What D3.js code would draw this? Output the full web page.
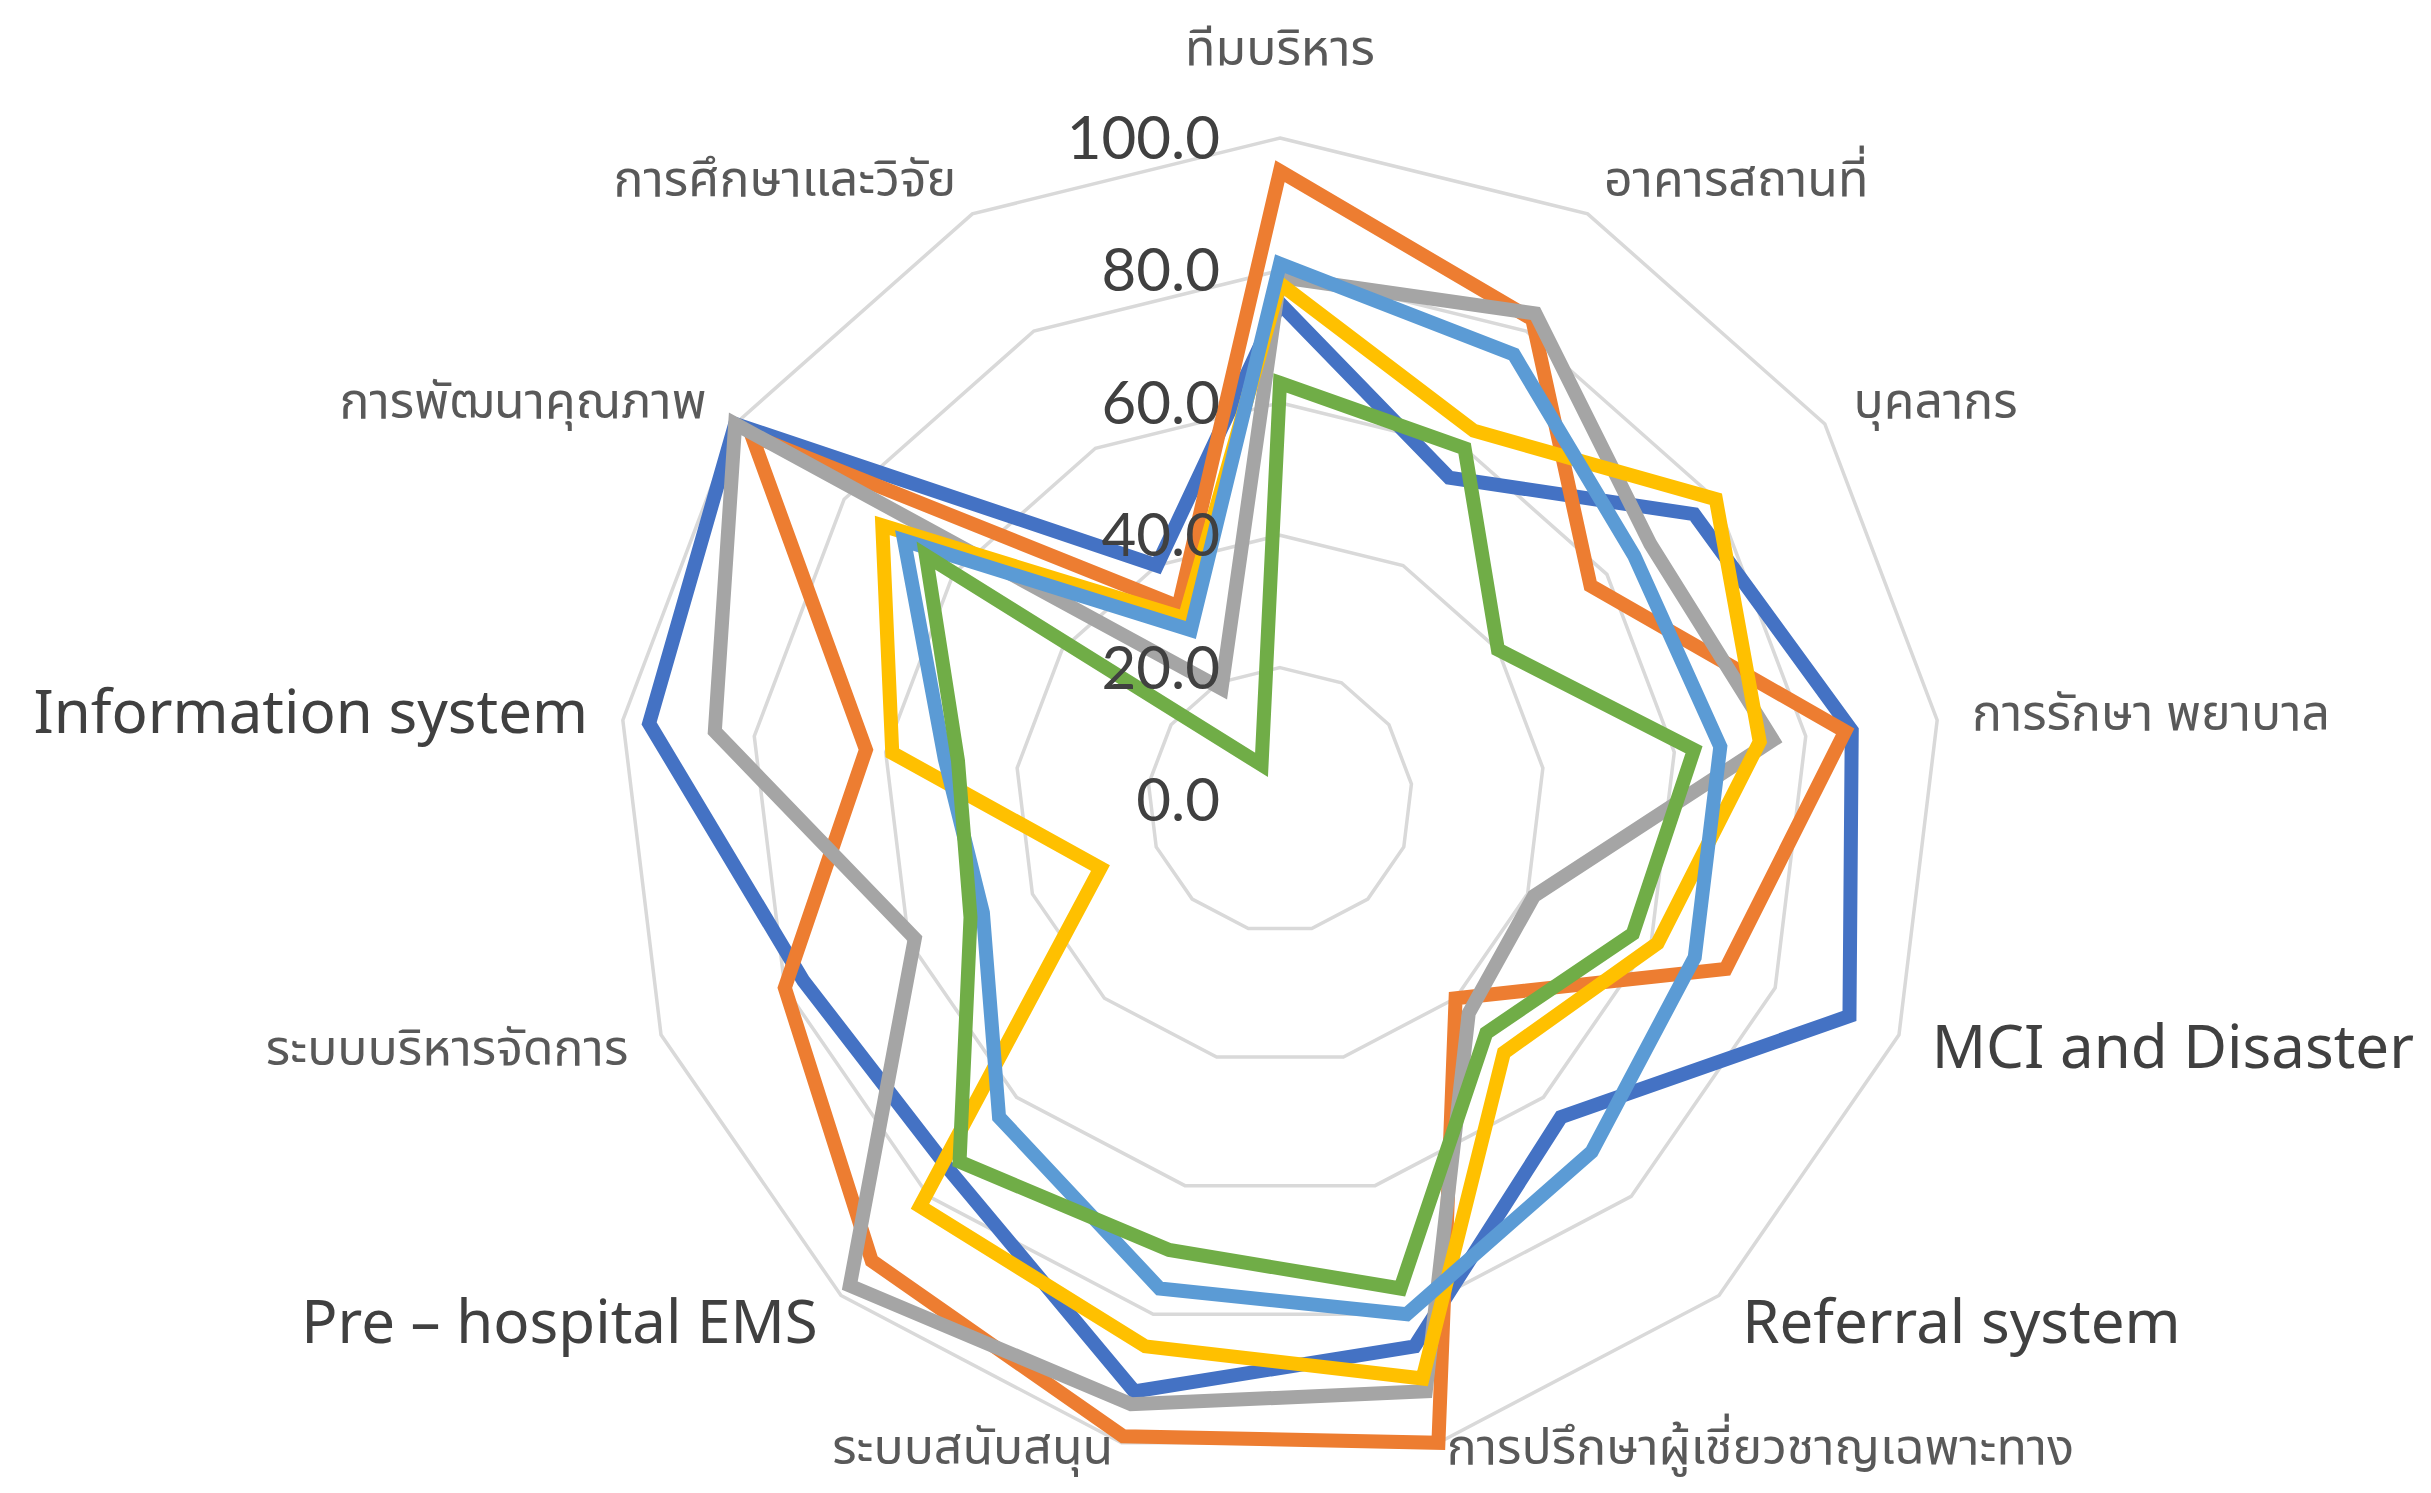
<!DOCTYPE html>
<html>
<head>
<meta charset="utf-8">
<script src="https://cdn.jsdelivr.net/npm/d3@7"></script>
<style>
  html, body { margin: 0; padding: 0; background: #fff; }
  .axis-label { font-family: "Noto Sans Thai", Lato, "Noto Sans", sans-serif; fill: #595959; }
  .tick-label { font-family: Lato, "Open Sans", sans-serif; fill: #404040; }
</style>
</head>
<body>
<div class="visHolder"></div>
<script>
// Axis categories, clockwise from the top
const categories = [
  "ทีมบริหาร", "อาคารสถานที่", "บุคลากร", "การรักษา พยาบาล", "MCI and Disaster",
  "Referral system", "การปรึกษาผู้เชี่ยวชาญเฉพาะทาง", "ระบบสนับสนุน", "Pre – hospital EMS",
  "ระบบบริหารจัดการ", "Information system", "การพัฒนาคุณภาพ", "การศึกษาและวิจัย"
];

// Series values
const seriesBlue      = [75, 55, 76, 87, 92, 64, 85, 92, 75, 77, 96, 100, 40];
const seriesOrange    = [95, 82, 57, 86, 72, 40, 100, 99, 93, 80, 63, 97, 33];
const seriesGray      = [79, 83, 68, 75, 41, 43, 92, 94, 98, 59, 86, 100, 19];
const seriesYellow    = [78, 63, 80, 73, 61, 51, 90, 85, 82, 29, 59, 73, 31];
const seriesLightBlue = [81, 76, 65, 67, 67, 71, 80, 76, 64, 48, 51, 69, 29];
const seriesGreen     = [63, 60, 40, 63, 57, 47, 76, 70, 73, 50, 49, 65, 6];

// Tick labels of the radial axis
const tickValues = [0, 20, 40, 60, 80, 100];
const tickLabels = ["0.0", "20.0", "40.0", "60.0", "80.0", "100.0"];

const allSeries = [seriesBlue, seriesOrange, seriesGray, seriesYellow, seriesLightBlue, seriesGreen];
const colors = ["#4472C4", "#ED7D31", "#A5A5A5", "#FFC000", "#5B9BD5", "#70AD47"];

const width = 2431, height = 1493;
const cx = 1280, cy = 800, R = 662;

const svg = d3.select(".visHolder").append("svg")
    .attr("width", width)
    .attr("height", height);

const g = svg.append("g")
    .attr("transform", "translate(" + cx + "," + cy + ")");

// Scales
const r = d3.scaleLinear().domain([0, 100]).range([0, R]);
const angle = d3.scaleLinear().domain([0, categories.length]).range([0, 2 * Math.PI]);

const radial = d3.lineRadial()
    .angle(d => d[0])
    .radius(d => d[1])
    .curve(d3.curveLinearClosed);

// Grid rings
g.selectAll(".ring")
  .data(tickValues.filter(t => t > 0))
  .enter()
  .append("path")
    .attr("class", "ring")
    .attr("d", t => radial(categories.map((c, i) => [angle(i), r(t)])))
    .attr("fill", "none")
    .attr("stroke", "#d9d9d9")
    .attr("stroke-width", 3.5);

// Series
g.selectAll(".series")
  .data(allSeries)
  .enter()
  .append("path")
    .attr("class", "series")
    .attr("d", s => radial(s.map((v, i) => [angle(i), r(v)])))
    .attr("fill", "none")
    .attr("stroke", (s, i) => colors[i])
    .attr("stroke-width", 14)
    .attr("stroke-linejoin", "miter");

// Radial tick labels
g.selectAll(".tick-label")
  .data(tickValues)
  .enter()
  .append("text")
    .attr("class", "tick-label")
    .attr("x", -60)
    .attr("y", t => -r(t))
    .attr("dy", "0.35em")
    .attr("text-anchor", "end")
    .style("font-size", "60px")
    .text((t, i) => tickLabels[i]);

// Category labels
const isLatin = s => /^[A-Za-z]/.test(s);
g.selectAll(".axis-label")
  .data(categories)
  .enter()
  .append("text")
    .attr("class", "axis-label")
    .each(function(c, i) {
        const a = angle(i);
        const sx = Math.sin(a), cy0 = -Math.cos(a);
        const rr = r(100) + 35;
        let x = rr * sx, y = rr * cy0 - (cy0 < 0 ? 4 : 0);
        let anchor = "middle";
        if (sx > 0.1) anchor = "start";
        else if (sx < -0.1) anchor = "end";
        if (Math.abs(sx) < 0.1 && cy0 < 0) y -= 52;
        if (Math.abs(sx) < 0.3 && cy0 > 0) y -= 30;   // keep bottom labels inside the page
        d3.select(this)
          .attr("x", x)
          .attr("y", y)
          .attr("dy", "0.35em")
          .attr("text-anchor", anchor)
          .style("font-size", isLatin(c) ? "60px" : "50px")
          .style("fill", isLatin(c) ? "#404040" : "#595959")
          .text(c);
    });
</script>
</body>
</html>
